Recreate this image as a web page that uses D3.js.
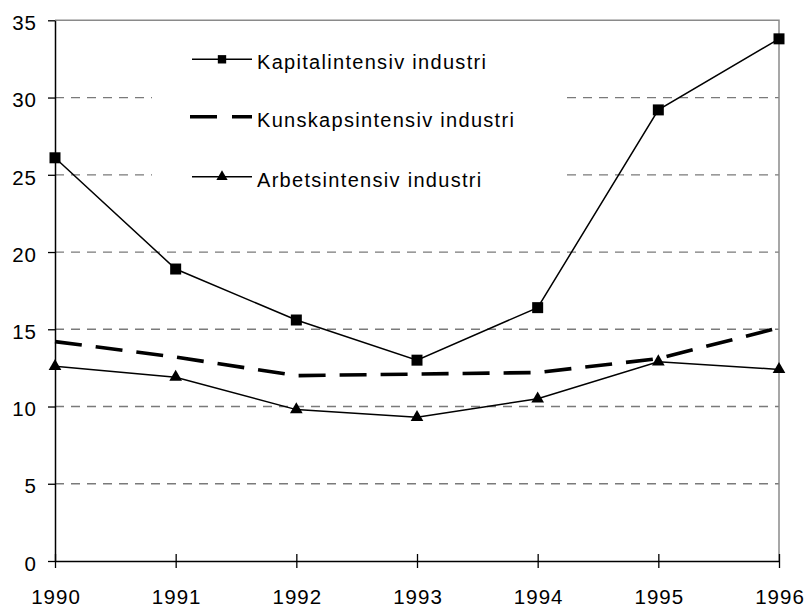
<!DOCTYPE html>
<html>
<head>
<meta charset="utf-8">
<script src="https://cdn.jsdelivr.net/npm/d3@7"></script>
<style>
  body { margin: 0; background: #fff; }
  svg { display: block; }
  text { font-family: "Liberation Sans", Arial, sans-serif; fill: #000; }
</style>
</head>
<body>
<svg id="chart" width="806" height="607"></svg>
<script>
// ---- data ----
const years = [1990, 1991, 1992, 1993, 1994, 1995, 1996];
const kapital = [26.1, 18.9, 15.6, 13.0, 16.4, 29.2, 33.8];
const kunskap = [14.2, 13.2, 12.0, 12.1, 12.2, 13.1, 15.1];
const arbets  = [12.6, 11.9, 9.8, 9.3, 10.5, 12.9, 12.4];
const yTicks = [0, 5, 10, 15, 20, 25, 30, 35];
const seriesNames = ["Kapitalintensiv industri", "Kunskapsintensiv industri", "Arbetsintensiv industri"];

// ---- layout ----
const svg = d3.select("#chart");
const L = 55, R = 779, T = 20.3, B = 561;
const x = d3.scaleLinear().domain([1990, 1996]).range([L, R]);
const y = d3.scaleLinear().domain([0, 35]).range([B, T]);

// gridlines
svg.append("g").selectAll("line")
  .data(yTicks.filter(v => v > 0 && v < 35))
  .join("line")
  .attr("x1", L).attr("x2", R)
  .attr("y1", d => y(d)).attr("y2", d => y(d))
  .attr("stroke", "#7a7a7a").attr("stroke-width", 1.3)
  .attr("stroke-dasharray", "9,7");

// legend background (covers gridlines)
svg.append("rect")
  .attr("x", 152).attr("y", 30).attr("width", 409).attr("height", 175)
  .attr("fill", "#fff");

// top and right border (gray)
svg.append("path")
  .attr("d", `M${L},${T}H${R}V${B}`)
  .attr("fill", "none").attr("stroke", "#8a8a8a").attr("stroke-width", 1.5);

// y axis
const yAxis = svg.append("g")
  .attr("transform", `translate(${L},0)`)
  .call(d3.axisLeft(y).tickValues(yTicks).tickSizeInner(7).tickSizeOuter(0).tickFormat(d3.format("d")));
yAxis.select(".domain").attr("stroke", "#000").attr("stroke-width", 1.5);
yAxis.selectAll(".tick line").attr("stroke", "#000").attr("stroke-width", 1.3);
yAxis.selectAll(".tick text")
  .attr("x", -18).attr("dy", "0.45em")
  .style("font-size", "20.5px")
  .style("letter-spacing", "1px")
  .style("font-family", "'Liberation Sans', Arial, sans-serif");

// x axis
const xAxis = svg.append("g")
  .attr("transform", `translate(0,${B})`)
  .call(d3.axisBottom(x).tickValues(years).tickSizeInner(7).tickSizeOuter(0).tickFormat(d3.format("d")));
xAxis.select(".domain").attr("stroke", "#000").attr("stroke-width", 1.5);
xAxis.selectAll(".tick line").attr("y1", -7).attr("y2", 7).attr("stroke", "#000").attr("stroke-width", 1.3);
xAxis.selectAll(".tick text")
  .attr("y", 43).attr("dy", 0).attr("dx", "0.5px")
  .style("font-size", "20.5px")
  .style("letter-spacing", "1px")
  .style("font-family", "'Liberation Sans', Arial, sans-serif");

// series
const line = d3.line().x((d, i) => x(years[i])).y(d => y(d));

svg.append("path").datum(kunskap)
  .attr("d", line).attr("fill", "none")
  .attr("stroke", "#000").attr("stroke-width", 3.6)
  .attr("stroke-dasharray", "27,14");

svg.append("path").datum(arbets)
  .attr("d", line).attr("fill", "none")
  .attr("stroke", "#000").attr("stroke-width", 1.5);

svg.append("path").datum(kapital)
  .attr("d", line).attr("fill", "none")
  .attr("stroke", "#000").attr("stroke-width", 1.5);

const sq = d3.symbol().type(d3.symbolSquare).size(121);
const tri = d3.symbol().type(d3.symbolTriangle).size(70);

svg.append("g").selectAll("path")
  .data(kapital).join("path")
  .attr("d", sq)
  .attr("transform", (d, i) => `translate(${x(years[i])},${y(d)})`)
  .attr("fill", "#000");

svg.append("g").selectAll("path")
  .data(arbets).join("path")
  .attr("d", tri)
  .attr("transform", (d, i) => `translate(${x(years[i])},${y(d)})`)
  .attr("fill", "#000");

// legend
const legRows = [59.3, 116.7, 176.7];
const lg = svg.append("g");
lg.append("line").attr("x1", 192).attr("x2", 252).attr("y1", legRows[0]).attr("y2", legRows[0])
  .attr("stroke", "#000").attr("stroke-width", 1.5);
lg.append("path").attr("d", d3.symbol().type(d3.symbolSquare).size(70))
  .attr("transform", `translate(222,${legRows[0]})`).attr("fill", "#000");
lg.append("line").attr("x1", 190).attr("x2", 252).attr("y1", legRows[1]).attr("y2", legRows[1])
  .attr("stroke", "#000").attr("stroke-width", 3.6).attr("stroke-dasharray", "27,15");
lg.append("line").attr("x1", 192).attr("x2", 252).attr("y1", legRows[2]).attr("y2", legRows[2])
  .attr("stroke", "#000").attr("stroke-width", 1.5);
lg.append("path").attr("d", d3.symbol().type(d3.symbolTriangle).size(55))
  .attr("transform", `translate(222,${legRows[2]})`).attr("fill", "#000");

lg.selectAll("text").data(seriesNames).join("text")
  .attr("x", 257).attr("y", (d, i) => legRows[i] + 10)
  .style("font-size", "20px")
  .style("letter-spacing", "1.3px")
  .text(d => d);
</script>
</body>
</html>
